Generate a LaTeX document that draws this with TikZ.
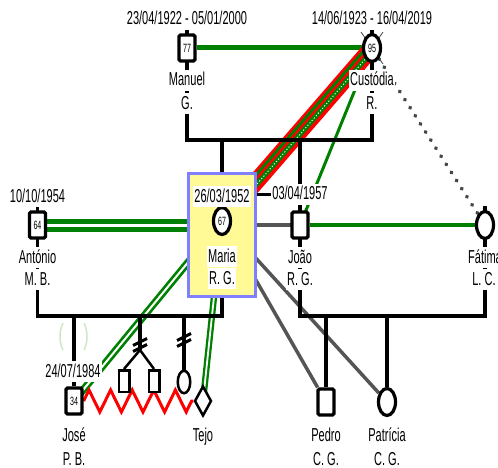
\documentclass[tikz,border=0pt]{standalone}
\usepackage{fontspec}
\setmainfont{Liberation Sans}[FakeStretch=0.59]
\usetikzlibrary{shapes.geometric,calc,decorations.pathmorphing}
\definecolor{gr}{RGB}{0,128,0}
\definecolor{rd}{RGB}{255,0,0}
\definecolor{gl}{RGB}{85,85,85}
\definecolor{dotc}{RGB}{70,70,70}
\definecolor{myyellow}{RGB}{255,250,150}
\definecolor{myblue}{RGB}{128,128,255}
\definecolor{palegr}{RGB}{205,232,195}
\pgfdeclarelayer{bg}
\pgfdeclarelayer{mid}
\pgfsetlayers{bg,mid,main}
\tikzset{
  lab/.style={fill=white, inner sep=1pt, text height=15pt, text depth=4pt, anchor=base, font=\fontsize{18.7}{21}\selectfont},
  num/.style={font=\fontsize{12}{12}\selectfont},
  male/.style={rectangle, draw, line width=3.2pt, fill=white, minimum width=16pt, minimum height=26pt, inner sep=0pt, rounded corners=1.5pt, num},
  female/.style={ellipse, draw, line width=3.2pt, fill=white, minimum width=17pt, minimum height=27pt, inner sep=0pt, num},
  smallmale/.style={rectangle, draw, line width=2.5pt, fill=white, minimum width=10.5pt, minimum height=21.5pt, inner sep=0pt},
  smallfemale/.style={ellipse, draw, line width=2.5pt, fill=white, minimum width=12.5pt, minimum height=22.5pt, inner sep=0pt},
  pet/.style={diamond, draw, line width=2.5pt, fill=white, minimum width=17pt, minimum height=30pt, inner sep=0pt},
  mbox/.style={rectangle, fill=myyellow, draw=myblue, line width=3pt, minimum width=67pt, minimum height=123pt},
  famline/.style={line width=3.5pt, black},
  greenline/.style={gr, line width=4.5pt},
  greydl/.style={gl, line width=3.5pt},
  greendouble/.style={draw=gr, double=white, line width=5pt, double distance=3pt},
  slashmark/.style={line width=3pt, black},
}
\begin{document}
\begin{tikzpicture}[x=1pt,y=-1pt]
\useasboundingbox (0,0) rectangle (498,468);

% ---------- people ----------
\node[male] (manuel) at (187,48) {77};
\node[female] (custodia) at (372,48) {95};
\node[lab] (manD) at (187,25) {23/04/1922 - 05/01/2000};
\node[lab] (cusD) at (372,25) {14/06/1923 - 16/04/2019};
\node[lab] (manN) at (187,86) {Manuel};
\node[lab] (manS) at (187,109.5) {G.};
\node[lab] (cusN) at (372,86) {Custódia};
\node[lab] (cusS) at (372,109.5) {R.};

\node[mbox] (maria) at (222,235) {};
\node[female] (mariaC) at (222,221) {67};
\node[lab] (marD) at (222,202) {26/03/1952};
\node[lab] (marN) at (222,262) {Maria};
\node[lab] (marS) at (222,284) {R. G.};

\node[male] (antonio) at (37.5,225) {64};
\node[lab] (antD) at (37.5,202) {10/10/1954};
\node[lab] (antN) at (37.5,263) {António};
\node[lab] (antS) at (37.5,285) {M. B.};

\node[male] (joao) at (300,225) {};
\node[lab] (joaD) at (300,200) {03/04/1957};
\node[lab] (joaN) at (300,263) {João};
\node[lab] (joaS) at (300,285) {R. G.};

\node[female] (fatima) at (485,225) {};
\node[lab] (fatN) at (485,263) {Fátima};
\node[lab] (fatS) at (484,285) {L. C.};

\node[male] (jose) at (74,401) {34};
\node[lab] (josD) at (73,377) {24/07/1984};
\node[lab] (josN) at (74,441) {José};
\node[lab] (josS) at (74,465) {P. B.};

\node[smallmale] (twinA) at (124,381) {};
\node[smallmale] (twinB) at (154,381) {};
\node[smallfemale] (girl) at (184,382) {};

\node[pet] (tejo) at (203,401) {};
\node[lab] (tejN) at (203,441) {Tejo};

\node[male] (pedro) at (326,402) {};
\node[lab] (pedN) at (326,441) {Pedro};
\node[lab] (pedS) at (326,465) {C. G.};

\node[female] (patricia) at (387,402) {};
\node[lab] (patN) at (387,441) {Patrícia};
\node[lab] (patS) at (387,465) {C. G.};

% ---------- coordinates of family lines ----------
\coordinate (manTop) at (187,30);
\coordinate (cusTop) at (372,30);
\coordinate (famTL) at (187,140);
\coordinate (famTR) at (372,140);
\coordinate (marTop) at (222,140);
\coordinate (joaTop) at (300,140);
\coordinate (antTop) at (37.5,206);
\coordinate (famBL) at (37.5,316);
\coordinate (famBM) at (222,316);
\coordinate (fatTop) at (485,206);
\coordinate (famBR) at (485,316);
\coordinate (famBJ) at (300,316);
\coordinate (josF) at (74,316);
\coordinate (twF) at (140,316);
\coordinate (twSplit) at (140,350);
\coordinate (girlF) at (184,316);
\coordinate (pedF) at (326,316);
\coordinate (patF) at (387,316);
\coordinate (twSl) at (140,345);
\coordinate (giSl) at (184,340);

% ---------- relationship lines (behind) ----------
\begin{pgfonlayer}{bg}
  \draw[dotc, line width=0.8pt] ($(custodia.center)+(-11,-16)$) -- ($(custodia.center)+(11,16)$);
  \draw[dotc, line width=0.8pt] ($(custodia.center)+(11,-16)$) -- ($(custodia.center)+(-11,16)$);
  \draw[gr, line width=5pt] (manuel) -- (custodia);
  \draw[gr, line width=3pt] (custodia.center) -- (joao.center);
  \draw[rd, line width=17pt] (mariaC.center) -- (custodia.center);
  \draw[gr, line width=2.8pt] ($(mariaC.center)!4.4pt!90:(custodia.center)$) -- ($(custodia.center)!4.4pt!-90:(mariaC.center)$);
  \draw[gr, line width=5pt] ($(mariaC.center)!2.2pt!-90:(custodia.center)$) -- ($(custodia.center)!2.2pt!90:(mariaC.center)$);
  \draw[white, line width=0.9pt, dash pattern=on 1.2pt off 2pt] ($(mariaC.center)!2.2pt!-90:(custodia.center)$) -- ($(custodia.center)!2.2pt!90:(mariaC.center)$);
  \draw[dotc, line width=3.8pt, line cap=round, dash pattern=on 0.6pt off 9pt] (custodia) -- (fatima);
  \draw[greendouble] (antonio.center) -- (antonio.center -| mariaC.center);
  \draw[greydl, line width=4pt] (mariaC.center |- joao.center) -- (joao.center);
  \draw[greenline] (joao) -- (fatima);
  \draw[draw=gr, double=white, line width=2.7pt, double distance=2pt] (mariaC.center) -- (jose.center);
  \draw[draw=gr, double=white, line width=2.3pt, double distance=1.8pt] (mariaC.center) -- (tejo.center);
  \draw[greydl] (mariaC.center) -- (pedro);
  \draw[greydl] (mariaC.center) -- (patricia);
  \draw[rd, line width=3pt, decorate, decoration={zigzag, segment length=21.6pt, amplitude=11pt}] (jose.east) -- (tejo.west);
  \draw[palegr, line width=1.5pt] (63,323) .. controls (59,331) and (59,342) .. (63,350);
  \draw[palegr, line width=1.5pt] (84,323) .. controls (88,331) and (88,342) .. (84,350);
\end{pgfonlayer}

% ---------- family lines ----------
\begin{pgfonlayer}{mid}
  \draw[famline] (manTop) -- (famTL) -- (famTR) -- (cusTop);
  \draw[famline] (marTop) -- (famBM) -- (famBL) -- (antTop);
  \draw[famline] (joaTop) -- (famBJ) -- (famBR) -- (fatTop);
  \draw[famline] (josF) -- (jose.north);
  \draw[famline] (twF) -- (twSplit);
  \draw[line width=2.5pt] (twSplit) -- (twinA.north);
  \draw[line width=2.5pt] (twSplit) -- (twinB.north);
  \draw[famline] (girlF) -- (girl.north);
  \draw[famline] (pedF) -- (pedro.north);
  \draw[famline] (patF) -- (patricia.north);
  \draw[famline] (joaD.west -| maria.east) -- (joaD.west);
\end{pgfonlayer}

% ---------- double slash marks ----------
\draw[slashmark] ($(twSl)+(-7,0.5)$) -- ($(twSl)+(7,-6.5)$);
\draw[slashmark] ($(twSl)+(-7,6.5)$) -- ($(twSl)+(7,-0.5)$);
\draw[slashmark] ($(giSl)+(-7,0.5)$) -- ($(giSl)+(7,-6.5)$);
\draw[slashmark] ($(giSl)+(-7,6.5)$) -- ($(giSl)+(7,-0.5)$);
\end{tikzpicture}
\end{document}
